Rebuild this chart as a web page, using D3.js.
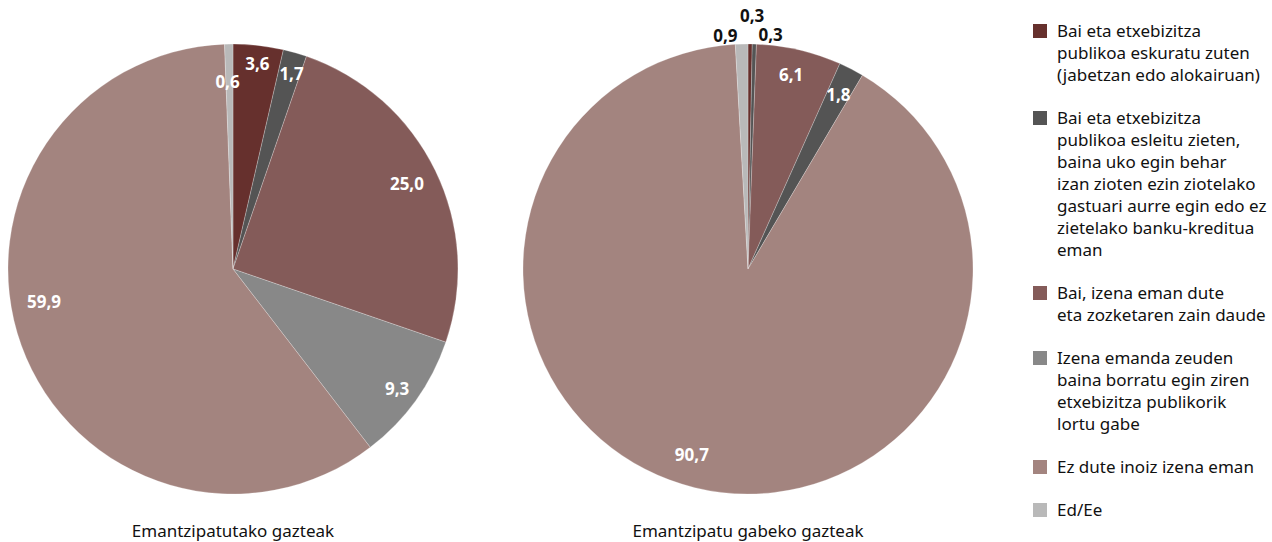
<!DOCTYPE html>
<html><head><meta charset="utf-8">
<script src="https://cdn.jsdelivr.net/npm/d3@7"></script>
<style>body{margin:0;background:#fff}svg{display:block}</style></head>
<body>
<svg id="c" width="1272" height="542"></svg>
<script>
// ---- data ----
const categories = [
  "Bai eta etxebizitza publikoa eskuratu zuten (jabetzan edo alokairuan)",
  "Bai eta etxebizitza publikoa esleitu zieten, baina uko egin behar izan zioten ezin ziotelako gastuari aurre egin edo ez zietelako banku-kreditua eman",
  "Bai, izena eman dute eta zozketaren zain daude",
  "Izena emanda zeuden baina borratu egin ziren etxebizitza publikorik lortu gabe",
  "Ez dute inoiz izena eman",
  "Ed/Ee"
];
const legendLines = [
  ["Bai eta etxebizitza", "publikoa eskuratu zuten", "(jabetzan edo alokairuan)"],
  ["Bai eta etxebizitza", "publikoa esleitu zieten,", "baina uko egin behar", "izan zioten ezin ziotelako", "gastuari aurre egin edo ez", "zietelako banku-kreditua", "eman"],
  ["Bai, izena eman dute", "eta zozketaren zain daude"],
  ["Izena emanda zeuden", "baina borratu egin ziren", "etxebizitza publikorik", "lortu gabe"],
  ["Ez dute inoiz izena eman"],
  ["Ed/Ee"]
];
const pieTitles = ["Emantzipatutako gazteak", "Emantzipatu gabeko gazteak"];
const leftValues  = [3.6, 1.7, 25.0, 9.3, 59.9, 0.6];
const rightValues = [0.3, 0.3, 6.1, 1.8, 90.7, 0.9];

// ---- styles / layout ----
const palette = ["#66302d", "#545454", "#845b59", "#888888", "#a3847f", "#b9b9b9"];
const rightPalette = ["#66302d", "#545454", "#845b59", "#545454", "#a3847f", "#b9b9b9"];
// label placement: radial factor k, angle shift (degrees)
const leftLabelPos  = [{k:0.918,da:0.3},{k:0.905,da:0.7},{k:0.86,da:0},{k:0.903,da:0.4},{k:0.852,da:10.1},{k:0.83,da:-0.6}];
const rightLabelPos = [{k:1.124,da:0.4},{k:1.045,da:3.9},{k:0.883,da:-0.6},{k:0.872,da:0.1},{k:0.865,da:3.1},{k:1.043,da:-3.9}];

const FONT = "'Noto Sans', sans-serif";
const R = 225;
const svg = d3.select("#c");
const fmt = v => d3.format(".1f")(v).replace(".", ",");

function drawPie(cx, cy, values, colors, labelPos, title) {
  const g = svg.append("g").attr("transform", `translate(${cx},${cy})`);
  const pie = d3.pie().sort(null).value(d => d)(values);
  const arc = d3.arc().innerRadius(0).outerRadius(R);
  g.selectAll("path.s").data(pie).join("path")
    .attr("class", "s")
    .attr("d", arc)
    .attr("fill", (d, i) => colors[i])
    .attr("stroke", "#ffffff").attr("stroke-width", 0.4).attr("stroke-opacity", 0.6);
  g.selectAll("text.l").data(pie).join("text")
    .attr("class", "l")
    .each(function(d, i) {
      const p = labelPos[i];
      const a = (d.startAngle + d.endAngle) / 2 + p.da * Math.PI / 180;
      const r = R * p.k;
      d3.select(this)
        .attr("x", Math.sin(a) * r)
        .attr("y", -Math.cos(a) * r)
        .attr("fill", p.k > 1 ? "#111111" : "#ffffff");
    })
    .attr("text-anchor", "middle")
    .attr("dy", "0.36em")
    .attr("font-family", FONT)
    .attr("font-weight", "bold")
    .attr("font-size", 17)
    .text(d => fmt(d.data));
  svg.append("text")
    .attr("x", cx).attr("y", 537)
    .attr("text-anchor", "middle")
    .attr("font-family", FONT).attr("font-size", 17).attr("fill", "#111")
    .text(title);
}

drawPie(233, 269, leftValues, palette, leftLabelPos, pieTitles[0]);
drawPie(748, 269, rightValues, rightPalette, rightLabelPos, pieTitles[1]);

// legend
const lg = svg.append("g");
const lineH = 22, gap = 21;
let yc = 31;
categories.forEach((c, i) => {
  const item = lg.append("g");
  item.append("rect").attr("x", 1033).attr("y", yc - 7).attr("width", 14).attr("height", 14).attr("fill", palette[i]);
  legendLines[i].forEach((ln, j) => {
    item.append("text").attr("x", 1057).attr("y", yc + j * lineH).attr("dy", "0.36em")
      .attr("font-family", FONT).attr("font-size", 17).attr("fill", "#111").text(ln);
  });
  yc += legendLines[i].length * lineH + gap;
});
</script>
</body></html>
